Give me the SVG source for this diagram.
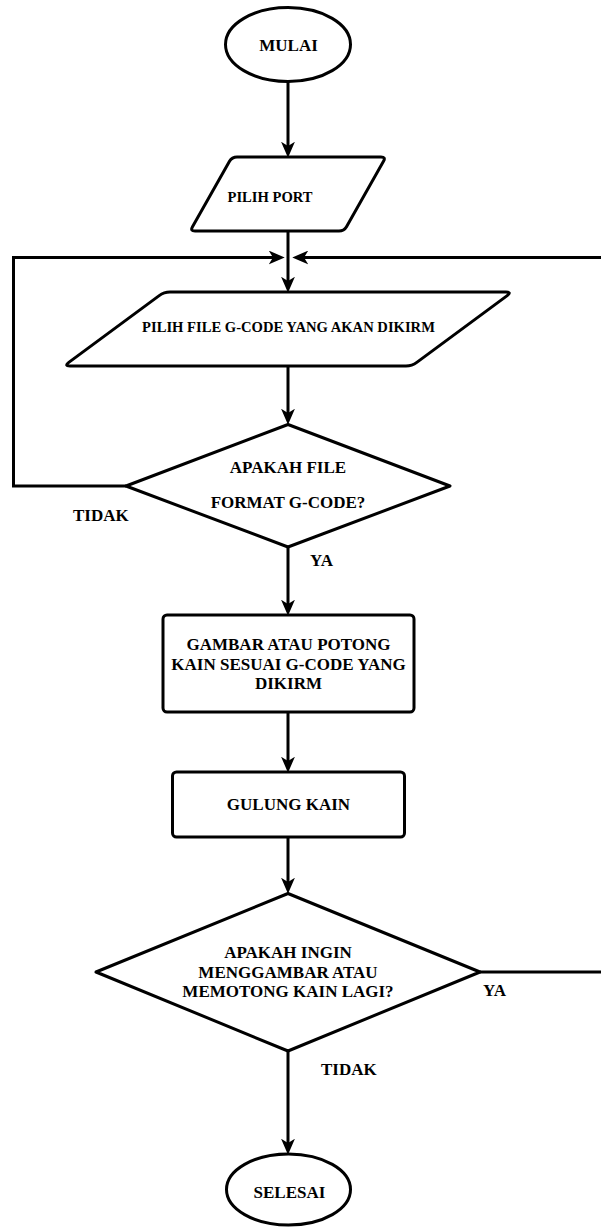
<svg xmlns="http://www.w3.org/2000/svg" width="601" height="1227" viewBox="0 0 601 1227">
<style>
.shape{fill:#fff;stroke:#000;stroke-width:3;stroke-linejoin:round}
.conn{fill:none;stroke:#000;stroke-width:3;stroke-linejoin:miter}
text{font-family:"Liberation Serif","Times New Roman",serif;font-weight:bold;fill:#000}
.t17{font-size:17px;text-anchor:middle}
.t15{font-size:14.6px;text-anchor:middle}
.lbl{font-size:17px;text-anchor:start}
</style>
<defs>
<marker id="arr" markerUnits="userSpaceOnUse" markerWidth="16" markerHeight="14" viewBox="0 0 15 13" refX="4" refY="6.5" orient="auto">
<path d="M0,0 L15,6.5 L0,13 L4,6.5 Z" fill="#000"/>
</marker>
</defs>
<rect width="601" height="1227" fill="#fff"/>
<g id="connectors">
<path class="conn" d="M288,82 L288,146" marker-end="url(#arr)"/>
<path class="conn" d="M288,231 L288,281" marker-end="url(#arr)"/>
<path class="conn" d="M126,486 L13.5,486 L13.5,257.5 L273,257.5" marker-end="url(#arr)"/>
<path class="conn" d="M480,972 L604,972 L604,257.5 L304,257.5" marker-end="url(#arr)"/>
<path class="conn" d="M288,366 L288,413" marker-end="url(#arr)"/>
<path class="conn" d="M288,547 L288,604" marker-end="url(#arr)"/>
<path class="conn" d="M288,712 L288,761" marker-end="url(#arr)"/>
<path class="conn" d="M288,837 L288,882" marker-end="url(#arr)"/>
<path class="conn" d="M288,1051 L288,1143" marker-end="url(#arr)"/>
<text class="lbl" x="73" y="521">TIDAK</text>
<text class="lbl" x="310" y="566">YA</text>
<text class="lbl" x="483" y="996">YA</text>
<text class="lbl" x="321" y="1075">TIDAK</text>
</g>
<g id="mulai">
<ellipse class="shape" cx="288" cy="44.5" rx="62.5" ry="37"/>
<text class="t17" x="288.5" y="51">MULAI</text>
</g>
<g id="pilih-port">
<path class="shape" d="M237,157 L381,157 Q386,157 383.5,161.3 L346.5,226.7 Q344,231 339,231 L195,231 Q190,231 192.5,226.7 L229.5,161.3 Q232,157 237,157 Z"/>
<text class="t15" x="270" y="202">PILIH PORT</text>
</g>
<g id="pilih-file">
<path class="shape" d="M170,292 L506,292 Q512,292 507.2,295.6 L416.8,362.4 Q412,366 406,366 L70,366 Q64,366 68.8,362.4 L159.2,295.6 Q164,292 170,292 Z"/>
<text class="t15" x="288.5" y="331.5">PILIH FILE G-CODE YANG AKAN DIKIRM</text>
</g>
<g id="cek-format">
<path class="shape" d="M288,424.5 L450,486 L288,547 L126,486 Z"/>
<text class="t17" x="288" y="473">APAKAH FILE</text>
<text class="t17" x="288" y="508">FORMAT G-CODE?</text>
</g>
<g id="gambar-potong">
<rect class="shape" x="163" y="615" width="251" height="97" rx="4"/>
<text class="t17" x="288.5" y="650">GAMBAR ATAU POTONG</text>
<text class="t17" x="288.5" y="669.5">KAIN SESUAI G-CODE YANG</text>
<text class="t17" x="288.5" y="689">DIKIRM</text>
</g>
<g id="gulung-kain">
<rect class="shape" x="172.5" y="772" width="232" height="65" rx="4"/>
<text class="t17" x="288.5" y="810">GULUNG KAIN</text>
</g>
<g id="cek-lagi">
<path class="shape" d="M288,893.5 L480,972 L288,1051 L96,972 Z"/>
<text class="t17" x="288" y="958">APAKAH INGIN</text>
<text class="t17" x="288" y="977.5">MENGGAMBAR ATAU</text>
<text class="t17" x="288" y="997">MEMOTONG KAIN LAGI?</text>
</g>
<g id="selesai">
<ellipse class="shape" cx="288.5" cy="1189.5" rx="62" ry="35.5"/>
<text class="t17" x="289.5" y="1198">SELESAI</text>
</g>
</svg>
